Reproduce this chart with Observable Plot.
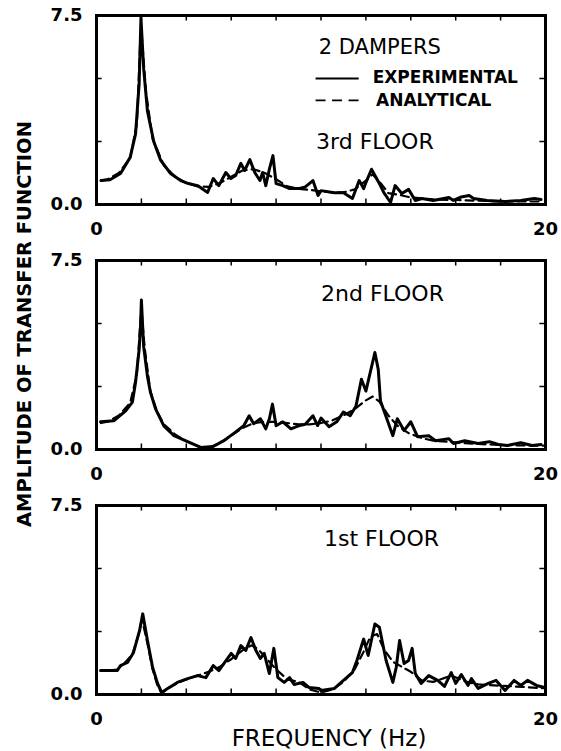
<!DOCTYPE html>
<html><head><meta charset="utf-8">
<script src="https://cdn.jsdelivr.net/npm/d3@7"></script>
<script src="https://cdn.jsdelivr.net/npm/@observablehq/plot@0.6"></script>
<style>
body{margin:0;background:#fff;}
#wrap{position:relative;width:561px;height:751px;font-family:"DejaVu Sans",sans-serif;color:#000;overflow:hidden;}
.panel{position:absolute;left:0;}
#ytitle{position:absolute;left:24px;top:324px;transform:translate(-50%,-50%) rotate(-90deg);white-space:nowrap;font-weight:bold;font-size:19.5px;}
#xtitle{position:absolute;left:329px;top:738px;transform:translate(-50%,-50%);white-space:nowrap;font-size:23px;}
</style></head><body>
<div id="wrap">
  <div id="ytitle">AMPLITUDE OF TRANSFER FUNCTION</div>
  <div id="xtitle">FREQUENCY (Hz)</div>
</div>
<script>
// ---- data ----
const floorNames = ["3rd FLOOR", "2nd FLOOR", "1st FLOOR"];
const legendTitle = "2 DAMPERS";
const seriesNames = ["EXPERIMENTAL", "ANALYTICAL"];
const xTickLabels = [0, 20];
const yTickLabels = [0, 7.5];
const xMinorTicks = [2, 4, 6, 8, 10, 12, 14, 16, 18];
const yMinorTicks = [2.5, 5.0];

// 3rd floor
const f3Exp = [0.2,0.6,1.07,1.5,1.74,1.9,1.98,2.1,2.27,2.55,2.86,3.3,3.75,4.1,4.5,4.95,5.2,5.45,5.76,5.98,6.2,6.43,6.6,6.83,7.05,7.28,7.4,7.54,7.7,7.86,8.0,8.3,8.6,9.0,9.3,9.64,9.87,10.0,10.6,11.0,11.4,11.7,11.9,12.0,12.25,12.6,12.8,13.1,13.3,13.6,13.9,14.2,14.5,15.0,15.7,15.9,16.25,16.6,16.8,17.4,18.2,18.9,19.5,19.8];
const a3Exp = [0.95,0.98,1.23,1.87,2.8,4.8,7.4,5.4,3.7,2.5,1.75,1.23,0.95,0.83,0.75,0.48,1.03,0.75,1.27,1.03,1.15,1.63,1.35,1.78,1.27,0.95,1.27,0.75,1.4,1.94,0.83,0.75,0.63,0.63,0.7,0.95,0.36,0.55,0.47,0.47,0.24,0.95,0.63,0.87,1.4,0.83,0.47,0.08,0.75,0.44,0.6,0.16,0.24,0.16,0.28,0.16,0.3,0.36,0.24,0.16,0.12,0.16,0.24,0.2];
const f3Ana = [0.2,0.5,1.0,1.5,1.8,1.95,2.0,2.2,2.5,3.0,3.5,4.0,4.5,5.0,5.5,6.0,6.5,7.0,7.5,8.0,8.5,9.0,9.5,10.0,10.5,11.0,11.5,12.0,12.3,12.7,13.0,13.5,14.0,15.0,16.0,17.0,18.0,19.0,19.9];
const a3Ana = [0.95,1.0,1.25,1.85,3.2,6.5,6.9,4.5,2.6,1.55,1.1,0.85,0.72,0.7,0.85,1.1,1.35,1.4,1.25,1.0,0.72,0.62,0.58,0.52,0.48,0.48,0.6,0.95,1.2,0.8,0.45,0.38,0.28,0.2,0.18,0.15,0.12,0.12,0.12];

// 2nd floor
const f2Exp = [0.18,0.77,1.3,1.6,1.74,1.9,1.96,2.0,2.1,2.27,2.4,2.63,3.0,3.45,4.06,4.64,5.2,5.67,6.1,6.56,6.8,7.0,7.3,7.54,7.7,7.84,8.0,8.3,8.66,9.0,9.3,9.64,9.85,10.0,10.36,10.7,11.0,11.3,11.56,11.8,12.0,12.4,12.55,12.65,12.9,13.2,13.4,13.7,14.0,14.3,14.8,15.1,15.7,15.9,16.4,17.0,17.5,17.9,18.3,18.9,19.4,19.8];
const a2Exp = [1.1,1.14,1.53,1.88,2.67,3.97,4.87,5.93,4.08,2.9,2.28,1.61,0.94,0.55,0.31,0.08,0.12,0.35,0.63,0.94,1.34,1.02,1.22,0.82,1.22,1.8,0.94,1.1,0.82,0.94,1.0,1.34,0.95,1.25,0.9,1.1,1.49,1.34,1.73,2.79,2.32,3.85,3.18,1.92,1.3,0.55,1.22,0.75,1.1,0.51,0.55,0.35,0.43,0.24,0.35,0.24,0.31,0.2,0.16,0.27,0.16,0.2];
const f2Ana = [0.2,0.5,1.0,1.5,1.8,1.95,2.0,2.15,2.4,2.7,3.0,3.5,4.0,4.6,5.0,5.5,6.0,6.5,7.0,7.5,8.0,8.5,9.0,9.5,10.0,10.5,11.0,11.5,12.0,12.3,12.6,13.0,13.4,13.9,14.5,15.0,16.0,17.0,18.0,19.0,19.9];
const a2Ana = [1.05,1.1,1.35,1.85,3.0,5.0,5.5,4.0,2.3,1.5,1.0,0.6,0.33,0.1,0.08,0.25,0.55,0.85,1.05,1.1,1.1,1.05,1.0,1.0,1.05,1.15,1.35,1.6,1.95,2.1,1.9,1.35,0.95,0.65,0.45,0.35,0.28,0.22,0.18,0.16,0.15];

// 1st floor
const f1Exp = [0.18,0.93,1.07,1.38,1.65,1.83,1.92,2.06,2.14,2.27,2.5,2.72,2.9,3.17,3.6,4.06,4.5,4.87,5.2,5.45,6.0,6.2,6.43,6.65,6.88,7.1,7.3,7.47,7.7,7.9,8.08,8.36,8.6,8.8,9.2,9.46,9.9,10.0,10.6,11.0,11.4,11.6,11.9,12.1,12.4,12.6,12.9,13.2,13.35,13.5,13.7,13.9,14.06,14.2,14.46,14.8,15.2,15.5,15.8,16.0,16.25,16.55,16.7,17.0,17.45,17.8,18.2,18.6,18.9,19.2,19.6,19.96];
const a1Exp = [0.95,0.95,1.15,1.27,1.67,2.26,2.54,3.2,2.8,2.14,1.07,0.44,0.08,0.24,0.48,0.63,0.75,0.67,1.15,0.95,1.63,1.43,1.94,1.75,2.26,1.75,1.43,1.63,0.83,1.83,0.67,0.48,0.67,0.4,0.48,0.28,0.24,0.16,0.24,0.56,0.87,1.35,2.2,1.55,2.8,2.67,1.35,0.48,1.07,2.14,1.23,1.35,1.83,0.83,0.44,0.75,0.56,0.32,0.87,0.44,0.79,0.36,0.63,0.24,0.44,0.56,0.16,0.56,0.36,0.56,0.36,0.28];
const f1Ana = [0.2,0.9,1.2,1.6,1.85,2.0,2.1,2.3,2.5,2.7,2.9,3.2,3.6,4.0,4.5,5.0,5.5,6.0,6.5,6.9,7.2,7.6,8.0,8.5,9.0,9.5,10.0,10.5,11.0,11.5,11.9,12.2,12.5,12.8,13.2,13.6,14.0,14.5,15.0,15.8,16.5,17.0,18.0,19.0,19.9];
const a1Ana = [0.95,0.98,1.2,1.6,2.3,2.9,2.7,1.9,1.0,0.4,0.05,0.25,0.45,0.6,0.75,0.9,1.1,1.4,1.75,1.95,1.8,1.4,1.0,0.6,0.5,0.2,0.08,0.2,0.5,1.0,1.7,2.3,2.4,1.8,1.3,1.1,0.9,0.55,0.5,0.75,0.5,0.4,0.35,0.3,0.25];

// ---- drawing ----
const W = 561;
const zip = (fs, as) => fs.map((f, i) => ({f, a: as[i]}));

function panel({top, height, expF, expA, anaF, anaA, extras}) {
  const svg = Plot.plot({
    width: W, height,
    marginLeft: 96, marginRight: 16, marginTop: 15, marginBottom: height - 15 - 189,
    x: {domain: [0, 20]},
    y: {domain: [0, 7.5]},
    style: {fontFamily: "DejaVu Sans, sans-serif", color: "#000", background: "transparent", overflow: "visible"},
    marks: [
      Plot.ruleX(xMinorTicks, {y1: 0, y2: 0.22, stroke: "#000", strokeWidth: 1.5}),
      Plot.ruleX(xMinorTicks, {y1: 7.28, y2: 7.5, stroke: "#000", strokeWidth: 1.5}),
      Plot.ruleY(yMinorTicks, {x1: 0, x2: 0.25, stroke: "#000", strokeWidth: 1.5}),
      Plot.ruleY(yMinorTicks, {x1: 19.75, x2: 20, stroke: "#000", strokeWidth: 1.5}),
      Plot.line(zip(anaF, anaA), {x: "f", y: "a", stroke: "#000", strokeWidth: 2.2, strokeDasharray: "8,5"}),
      Plot.line(zip(expF, expA), {x: "f", y: "a", stroke: "#000", strokeWidth: 3, strokeLinejoin: "round"}),
      Plot.frame({stroke: "#000", strokeWidth: 3}),
      Plot.axisX({ticks: xTickLabels, tickSize: 0, tickPadding: 18, label: null, fontSize: 18, fontWeight: "bold", tickFormat: d => String(d)}),
      Plot.axisY({ticks: yTickLabels, tickSize: 0, tickPadding: 14, label: null, fontSize: 18, fontWeight: "bold", tickFormat: d => d.toFixed(1)}),
      ...extras
    ]
  });
  svg.classList.add("panel");
  svg.style.top = top + "px";
  document.getElementById("wrap").appendChild(svg);
}

const lbl = {textAnchor: "start", lineAnchor: "middle", fill: "#000", fontSize: 22, letterSpacing: 1};
const leg = {textAnchor: "start", lineAnchor: "middle", fill: "#000", fontSize: 17, fontWeight: "bold", letterSpacing: 0.5};

panel({top: 0, height: 245, expF: f3Exp, expA: a3Exp, anaF: f3Ana, anaA: a3Ana, extras: [
  Plot.text([legendTitle], {...lbl, x: 9.9, y: 6.23, text: d => d, fontSize: 21}),
  Plot.ruleY([5.0], {x1: 9.78, x2: 11.7, stroke: "#000", strokeWidth: 1.8}),
  Plot.text([seriesNames[0]], {...leg, x: 12.3, y: 5.04, text: d => d}),
  Plot.ruleY([4.13], {x1: 9.78, x2: 11.7, stroke: "#000", strokeWidth: 1.8, strokeDasharray: "10,6.5"}),
  Plot.text([seriesNames[1]], {...leg, x: 12.45, y: 4.13, text: d => d}),
  Plot.text([floorNames[0]], {...lbl, x: 9.78, y: 2.5, text: d => d})
]});
panel({top: 245, height: 247, expF: f2Exp, expA: a2Exp, anaF: f2Ana, anaA: a2Ana, extras: [
  Plot.text([floorNames[1]], {...lbl, x: 10.0, y: 6.16, text: d => d})
]});
panel({top: 490, height: 245, expF: f1Exp, expA: a1Exp, anaF: f1Ana, anaA: a1Ana, extras: [
  Plot.text([floorNames[2]], {...lbl, x: 10.13, y: 6.19, text: d => d})
]});
</script>
</body></html>
